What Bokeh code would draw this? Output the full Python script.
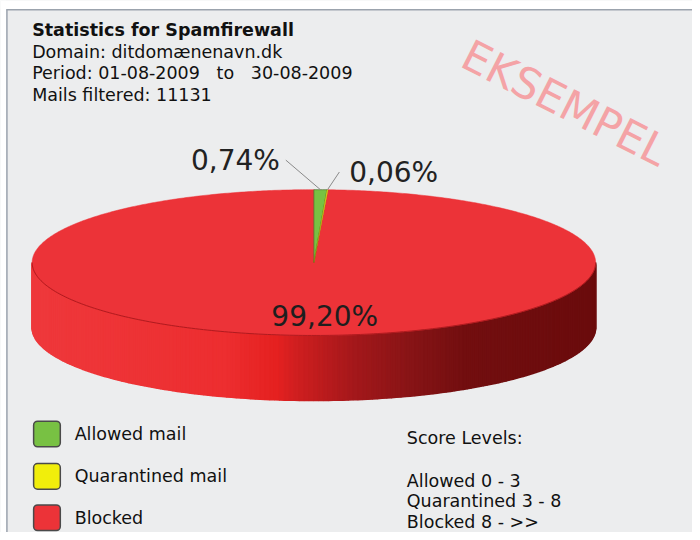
import numpy as np
from bokeh.plotting import figure
from bokeh.models import Range1d
from bokeh.core.properties import value
from bokeh.embed import file_html
from bokeh.resources import INLINE

# ---------------- data ----------------
categories = ["Allowed mail", "Quarantined mail", "Blocked"]
percentages = [0.74, 0.06, 99.20]
pct_labels = ["0,74%", "0,06%", "99,20%"]
slice_colors = ["#78c143", "#f1ee0b", "#ec3338"]

title_line = "Statistics for Spamfirewall"
info_lines = ["Domain: ditdomænenavn.dk",
              "Period: 01-08-2009\u00a0\u00a0\u00a0to\u00a0\u00a0\u00a030-08-2009",
              "Mails filtered: 11131"]
score_lines = ["Score Levels:", "Allowed 0 - 3", "Quarantined 3 - 8", "Blocked 8 - >>"]
watermark = "EKSEMPEL"

# ---------------- layout / style ----------------
W, H = 692, 532
BG = "#ecedee"
FONT = "DejaVu Sans"
CX, CY, RX, RY, DEPTH = 317, 266, 285, 74, 66
side_stops_x = [32, 230, 280, 300, 360, 420, 470, 602]
side_stops_c = ["#ef393c", "#ed2e30", "#e52120", "#d01f20", "#a3181b", "#861416", "#730f10", "#6b0c0d"]

p = figure(width=W, height=H, output_backend="svg", toolbar_location=None,
           x_range=Range1d(0, 700), y_range=Range1d(540, 0),
           min_border=0, background_fill_color=BG, border_fill_color=BG,
           outline_line_color=None)
p.axis.visible = False
p.grid.visible = False

# white page strips + frame border on top/left
p.quad(left=[0, 0], right=[700, 6], top=[0, 0], bottom=[9, 540],
       fill_color="white", line_color=None)
p.segment(x0=[6, 6.5], y0=[9.5, 9], x1=[700, 6.5], y1=[9.5, 540],
          line_color="#9ba3ad", line_width=1.5)

def ex(t):
    return CX + RX * np.cos(t)

def ey(t):
    return CY - RY * np.sin(t)

def hex2rgb(h):
    h = h.lstrip("#")
    return np.array([int(h[i:i + 2], 16) for i in (0, 2, 4)], dtype=float)

stop_rgb = np.array([hex2rgb(c) for c in side_stops_c])

def side_color(x):
    r = np.interp(x, side_stops_x, stop_rgb[:, 0])
    g = np.interp(x, side_stops_x, stop_rgb[:, 1])
    b = np.interp(x, side_stops_x, stop_rgb[:, 2])
    return "#%02x%02x%02x" % (int(r), int(g), int(b))

# ---------------- side wall (front half) ----------------
ts = np.linspace(np.pi, 2 * np.pi, 181)
bx = np.concatenate([ex(ts), ex(ts[::-1])])
by = np.concatenate([ey(ts), ey(ts[::-1]) + DEPTH])
p.patch(bx, by, fill_color="#a3181b", line_color=None)
sx, sy, sc = [], [], []
for t0, t1 in zip(ts[:-1], ts[1:]):
    x0, x1 = ex(t0), ex(t1)
    y0, y1 = ey(t0), ey(t1)
    sx.append([x0, x1, x1, x0])
    sy.append([y0, y1, y1 + DEPTH, y0 + DEPTH])
    sc.append(side_color((x0 + x1) / 2))
p.patches(sx, sy, fill_color=sc, line_color=sc, line_width=1.6)

# ---------------- top face wedges ----------------
cum = np.concatenate([[0], np.cumsum(percentages)])
starts = np.deg2rad(90 - 3.6 * cum[:-1])
ends = np.deg2rad(90 - 3.6 * cum[1:])
wx, wy = [], []
for a0, a1 in zip(starts, ends):
    n = max(4, int(abs(a1 - a0) / 0.01))
    tt = np.linspace(a0, a1, n)
    wx.append(np.concatenate([[CX], ex(tt)]).tolist())
    wy.append(np.concatenate([[CY], ey(tt)]).tolist())
order = [2, 0, 1]
p.patches([wx[i] for i in order], [wy[i] for i in order],
          fill_color=[slice_colors[i] for i in order],
          line_color=["#ec3338", "#3f5f20", "#9a9400"], line_width=[0.5, 0.6, 0.4])

# front edge of top face
te = np.linspace(np.pi, 2 * np.pi, 200)
p.line(ex(te), ey(te), line_color="#b01b1f", line_width=1.0)

# ---------------- labels ----------------
mids = (starts + ends) / 2
lab_dx = [-35, 12]
lab_dy = [-30, -18]
for i in range(2):
    ax, ay = ex(mids[i]), ey(mids[i])
    lx, ly = ax + lab_dx[i], ay + lab_dy[i]
    p.line([ax, lx], [ay, ly], line_color="#8a8a8a", line_width=1)
p.text(x=[ex(mids[0]) + lab_dx[0] - 6], y=[ey(mids[0]) + lab_dy[0]], text=[pct_labels[0]],
       text_font=value(FONT), text_font_size="28px", text_color="#222222",
       text_align="right", text_baseline="middle")
p.text(x=[ex(mids[1]) + lab_dx[1] + 10], y=[ey(mids[1]) + lab_dy[1] + 1], text=[pct_labels[1]],
       text_font=value(FONT), text_font_size="28px", text_color="#222222",
       text_align="left", text_baseline="middle")
p.text(x=[CX + 11], y=[CY + 55], text=[pct_labels[2]],
       text_font=value(FONT), text_font_size="28px", text_color="#1e1e1e",
       text_align="center", text_baseline="middle")

# ---------------- header ----------------
p.text(x=[32], y=[30], text=[title_line], text_font=value(FONT), text_font_style="bold",
       text_font_size="17.5px", text_color="#111111", text_baseline="middle")
p.text(x=[32] * len(info_lines), y=[52 + 22 * i for i in range(len(info_lines))], text=info_lines,
       text_font=value(FONT), text_font_size="17.5px", text_color="#111111", text_baseline="middle")

# watermark
p.text(x=[571], y=[104], text=[watermark], angle=-0.47, text_font=value(FONT),
       text_font_size="43px", text_color="#f4a3a6", text_align="center", text_baseline="middle")

# ---------------- legend ----------------
leg_y = [440, 483, 525]
p.rect(x=[47] * 3, y=leg_y, width=27, height=26, fill_color=slice_colors,
       line_color="#4a4a4a", line_width=1.5, border_radius=4)
p.text(x=[75] * 3, y=leg_y, text=categories, text_font=value(FONT), text_font_size="17.5px",
       text_color="#111111", text_baseline="middle")

score_y = [444, 488, 508, 529]
p.text(x=[411] * 4, y=score_y, text=score_lines, text_font=value(FONT), text_font_size="17.5px",
       text_color="#111111", text_baseline="middle")

open("out.html", "w").write(file_html(p, INLINE))
